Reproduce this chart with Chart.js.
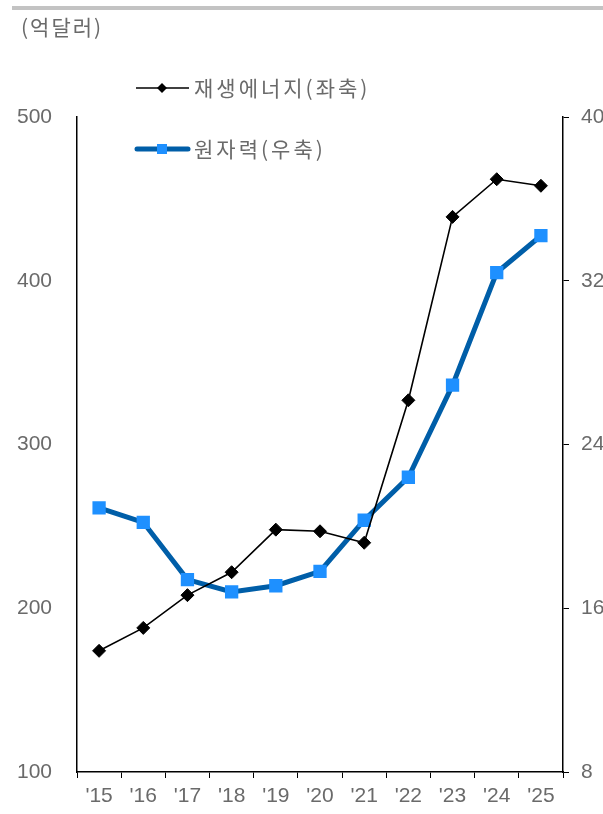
<!DOCTYPE html>
<html>
<head>
<meta charset="utf-8">
<script src="https://cdn.jsdelivr.net/npm/chart.js@4.4.1/dist/chart.umd.min.js"></script>
<style>
  html, body { margin: 0; padding: 0; background: #fff; }
</style>
</head>
<body>
<canvas id="chart" width="603" height="814"></canvas>
<script>
// 연도 라벨
const years = ["'15", "'16", "'17", "'18", "'19", "'20", "'21", "'22", "'23", "'24", "'25"];
// 재생에너지 (좌축, 억달러)
const renewable = [174, 188, 208, 222, 248, 247, 240, 327, 439, 462, 458];
// 원자력 (우축, 억달러)
const nuclear = [20.9, 20.2, 17.4, 16.8, 17.1, 17.8, 20.3, 22.4, 26.9, 32.4, 34.2];

const seriesNames = ['재생에너지(좌축)', '원자력(우축)'];
const unitLabel = '(억달러)';

const gray = '#6a6a6a';
const tickFont = { family: '"Liberation Sans", Arial, sans-serif', size: 21 };

// 상단 회색 선, 단위, 범례는 직접 그림
const extras = {
  id: 'extras',
  afterDraw(chart) {
    const ctx = chart.ctx;
    ctx.save();
    ctx.fillStyle = '#c3c3c3';
    ctx.fillRect(12, 6, 591, 4);

    ctx.fillStyle = gray;
    ctx.font = '21px "Noto Sans CJK KR", sans-serif';
    ctx.textBaseline = 'middle';
    ctx.letterSpacing = '2px';
    ctx.fillText(unitLabel, 21, 27);

    // 범례
    const legendY = [88, 149];
    chart.data.datasets.forEach((ds, i) => {
      const y = legendY[i];
      ctx.strokeStyle = ds.borderColor;
      ctx.lineWidth = ds.borderWidth;
      ctx.lineCap = i === 1 ? 'round' : 'butt';
      ctx.beginPath();
      ctx.moveTo(i === 1 ? 137 : 136, y);
      ctx.lineTo(i === 1 ? 188 : 189, y);
      ctx.stroke();
      ctx.fillStyle = ds.pointBackgroundColor;
      if (ds.pointStyle === 'rectRot') {
        ctx.beginPath();
        ctx.moveTo(162 - 5, y);
        ctx.lineTo(162, y - 5);
        ctx.lineTo(162 + 5, y);
        ctx.lineTo(162, y + 5);
        ctx.closePath();
        ctx.fill();
      } else {
        ctx.fillRect(157, y - 5, 10, 10);
      }
      ctx.fillStyle = gray;
      ctx.letterSpacing = '3px';
      ctx.font = '21px "Noto Sans CJK KR", sans-serif';
      ctx.fillText(ds.label, 194, y);
    });
    ctx.restore();
  }
};

new Chart(document.getElementById('chart'), {
  type: 'line',
  data: {
    labels: years,
    datasets: [
      {
        label: seriesNames[0],
        data: renewable,
        yAxisID: 'yL',
        borderColor: '#000000',
        borderWidth: 1.6,
        pointStyle: 'rectRot',
        pointRadius: 6.5,
        pointBackgroundColor: '#000000',
        pointBorderColor: '#000000',
        pointBorderWidth: 1,
        tension: 0
      },
      {
        label: seriesNames[1],
        data: nuclear,
        yAxisID: 'yR',
        borderColor: '#005ea8',
        borderWidth: 5,
        pointStyle: 'rect',
        pointRadius: 9.4,
        pointBackgroundColor: '#1e90ff',
        pointBorderColor: '#1e90ff',
        pointBorderWidth: 0,
        tension: 0
      }
    ]
  },
  options: {
    responsive: false,
    devicePixelRatio: 1,
    animation: false,
    layout: { padding: { top: 117, left: 0, right: 0, bottom: 0 } },
    plugins: {
      legend: { display: false },
      tooltip: { enabled: false }
    },
    scales: {
      x: {
        offset: true,
        grid: { offset: true, drawOnChartArea: false, drawTicks: true, tickLength: 6, color: '#000' },
        border: { display: true, color: '#000', width: 1.5 },
        ticks: { color: gray, font: tickFont, padding: 6, maxRotation: 0, autoSkip: false },
        afterFit(scale) { scale.height = 42; }
      },
      yL: {
        position: 'left',
        min: 100,
        max: 500,
        grid: { drawOnChartArea: false, drawTicks: false },
        border: { display: true, color: '#000', width: 1.5 },
        ticks: { stepSize: 100, color: gray, font: tickFont, padding: 25 },
        afterFit(scale) { scale.width = 77; }
      },
      yR: {
        position: 'right',
        min: 8,
        max: 40,
        grid: { drawOnChartArea: false, drawTicks: true, tickLength: 6, color: '#000' },
        border: { display: true, color: '#000', width: 1.5 },
        ticks: { stepSize: 8, color: gray, font: tickFont, padding: 12 },
        afterFit(scale) { scale.width = 40; }
      }
    }
  },
  plugins: [extras]
});
</script>
</body>
</html>
